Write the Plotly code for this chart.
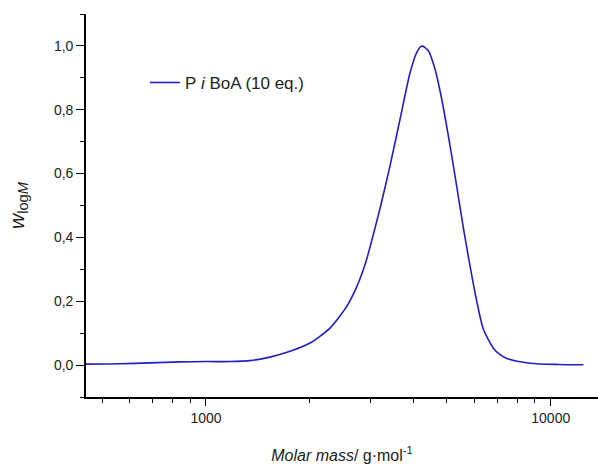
import plotly.graph_objects as go

# GPC molar mass distribution of PiBoA (10 eq.)
molar_mass = [449, 563, 688, 841, 1000, 1174, 1341, 1533, 1753, 2003, 2289,
              2560, 2736, 2893, 2991, 3093, 3213, 3419, 3654, 3906, 4087,
              4225, 4415, 4617, 4829, 5046, 5278, 5578, 5833, 6100,
              6376, 6816, 7100, 7454, 8710, 10500, 12435]
w_logM = [0.003, 0.004, 0.007, 0.010, 0.011, 0.011, 0.014, 0.025, 0.043, 0.069,
          0.116, 0.184, 0.245, 0.315, 0.370, 0.430, 0.500, 0.625, 0.770, 0.915,
          0.980, 1.000, 0.985, 0.927, 0.833, 0.718, 0.592, 0.430, 0.310,
          0.200, 0.112, 0.053, 0.034, 0.021, 0.006, 0.002, 0.001]

series_name = "P<i> i </i>BoA (10 eq.)"

x_major = [1000, 10000]
x_minor = [500, 600, 700, 800, 900, 2000, 3000, 4000, 5000, 6000, 7000,
           8000, 9000]

fig = go.Figure()
fig.add_trace(go.Scatter(
    x=molar_mass, y=w_logM, mode="lines", name=series_name,
    line=dict(color="#1f1fc4", width=1.6, shape="spline", smoothing=0.7),
))

font = "Liberation Sans, Arial, sans-serif"

fig.update_layout(
    width=598, height=464,
    margin=dict(l=86, r=0, t=14, b=67),
    paper_bgcolor="white", plot_bgcolor="white",
    separators=", ",
    font=dict(family=font, size=14, color="#222222"),
    showlegend=True,
    legend=dict(x=0.115, y=0.82, xanchor="left", yanchor="middle",
                bgcolor="rgba(0,0,0,0)", font=dict(size=17, color="#222222")),
    xaxis=dict(
        type="log", range=[2.652, 4.137],
        tickvals=x_major, ticktext=[str(v) for v in x_major],
        ticks="outside", ticklen=7, tickwidth=1.3, tickcolor="black",
        showline=True, linecolor="black", linewidth=1.6,
        showgrid=False, zeroline=False,
        minor=dict(tickvals=x_minor, ticks="outside", ticklen=4,
                   tickwidth=1.3, tickcolor="black", showgrid=False),
        title=dict(text="<i>Molar mass</i>/ g·mol<sup>-1</sup>",
                   font=dict(size=16), standoff=26),
    ),
    yaxis=dict(
        range=[-0.1, 1.1], dtick=0.2, tick0=0, tickformat=".1f",
        ticks="outside", ticklen=8, tickwidth=1.3, tickcolor="black",
        showline=True, linecolor="black", linewidth=1.6,
        showgrid=False, zeroline=False,
        minor=dict(dtick=0.1, tick0=0, ticks="outside", ticklen=4,
                   tickwidth=1.3, tickcolor="black", showgrid=False),
        title=dict(text="<i>w</i><sub>log<i>M</i></sub>",
                   font=dict(size=21), standoff=24),
    ),
)

fig.write_html("out.html")
